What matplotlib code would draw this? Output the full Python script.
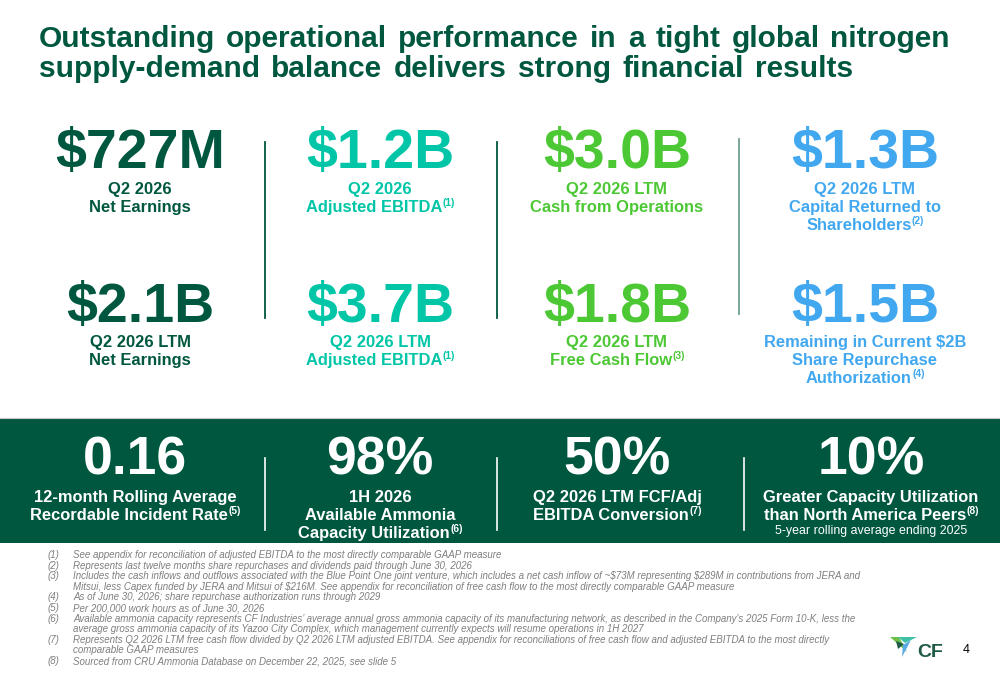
import matplotlib
matplotlib.use("Agg")
import matplotlib.pyplot as plt
from matplotlib.patches import Rectangle, Polygon

plt.rcParams['font.family'] = ['Liberation Sans', 'DejaVu Sans']
plt.rcParams['text.parse_math'] = False

DARK = '#00573F'
TEAL = '#00C6A7'
GREEN = '#4CC834'
BLUE = '#41A8F0'
GRAY = '#7F7F7F'

title_lines = ["Outstanding operational performance in a tight global nitrogen",
               "supply-demand balance delivers strong financial results"]
title_right = [950, 853]   # right edge of each title line in the slide

# top block: big value + label lines (text, superscript)
col_x = [140, 380, 617, 865]
col_colors = [DARK, TEAL, GREEN, BLUE]
row1_values = ["$727M", "$1.2B", "$3.0B", "$1.3B"]
row1_labels = [[("Q2 2026", ""), ("Net Earnings", "")],
               [("Q2 2026", ""), ("Adjusted EBITDA", "(1)")],
               [("Q2 2026 LTM", ""), ("Cash from Operations", "")],
               [("Q2 2026 LTM", ""), ("Capital Returned to", ""), ("Shareholders", "(2)")]]
row2_values = ["$2.1B", "$3.7B", "$1.8B", "$1.5B"]
row2_labels = [[("Q2 2026 LTM", ""), ("Net Earnings", "")],
               [("Q2 2026 LTM", ""), ("Adjusted EBITDA", "(1)")],
               [("Q2 2026 LTM", ""), ("Free Cash Flow", "(3)")],
               [("Remaining in Current $2B", ""), ("Share Repurchase", ""), ("Authorization", "(4)")]]

# band block
band_x = [135, 380, 617, 871]
band_values = ["0.16", "98%", "50%", "10%"]
band_labels = [[("12-month Rolling Average", ""), ("Recordable Incident Rate", "(5)")],
               [("1H 2026", ""), ("Available Ammonia", ""), ("Capacity Utilization", "(6)")],
               [("Q2 2026 LTM FCF/Adj", ""), ("EBITDA Conversion", "(7)")],
               [("Greater Capacity Utilization", ""), ("than North America Peers", "(8)")]]
band_note = "5-year rolling average ending 2025"

footnotes = [
    ("(1)", ["See appendix for reconciliation of adjusted EBITDA to the most directly comparable GAAP measure"]),
    ("(2)", ["Represents last twelve months share repurchases and dividends paid through June 30, 2026"]),
    ("(3)", ["Includes the cash inflows and outflows associated with the Blue Point One joint venture, which includes a net cash inflow of ~$73M representing $289M in contributions from JERA and",
             "Mitsui, less Capex funded by JERA and Mitsui of $216M. See appendix for reconciliation of free cash flow to the most directly comparable GAAP measure"]),
    ("(4)", ["As of June 30, 2026; share repurchase authorization runs through 2029"]),
    ("(5)", ["Per 200,000 work hours as of June 30, 2026"]),
    ("(6)", ["Available ammonia capacity represents CF Industries\u2019 average annual gross ammonia capacity of its manufacturing network, as described in the Company's 2025 Form 10-K, less the",
             "average gross ammonia capacity of its Yazoo City Complex, which management currently expects will resume operations in 1H 2027"]),
    ("(7)", ["Represents Q2 2026 LTM free cash flow divided by Q2 2026 LTM adjusted EBITDA. See appendix for reconciliations of free cash flow and adjusted EBITDA to the most directly",
             "comparable GAAP measures"]),
    ("(8)", ["Sourced from CRU Ammonia Database on December 22, 2025, see slide 5"]),
]

fig = plt.figure(figsize=(10, 6.85), dpi=100)
ax = fig.add_axes([0, 0, 1, 1])
ax.set_xlim(0, 1000)
ax.set_ylim(685, 0)
ax.axis('off')
fig.canvas.draw()
renderer = fig.canvas.get_renderer()


def label_line(x, y, text, sup, color, size):
    # centre text + superscript together on x
    t = ax.text(0, y, text, color=color, fontsize=size, fontweight='bold', va='baseline', ha='left')
    w = t.get_window_extent(renderer).width
    ws = 0
    s = None
    if sup:
        s = ax.text(0, y - size * 0.5, sup, color=color, fontsize=size * 0.62,
                    fontweight='bold', va='baseline', ha='left')
        ws = s.get_window_extent(renderer).width
    left = x - (w + ws) / 2
    t.set_x(left)
    if s is not None:
        s.set_x(left + w + 0.5)


# title, words spread a little (slide text is letter-spaced)
for i, line in enumerate(title_lines):
    words = line.split()
    objs = [ax.text(0, 47 + 30 * i, wd, color=DARK, fontsize=21.5, fontweight='bold', va='baseline')
            for wd in words]
    widths = [o.get_window_extent(renderer).width for o in objs]
    gap = (title_right[i] - 39 - sum(widths)) / (len(words) - 1)
    cur = 39
    for o, w in zip(objs, widths):
        o.set_x(cur)
        cur += w + gap

# top rows
for i in range(4):
    ax.text(col_x[i], 168, row1_values[i], color=col_colors[i], fontsize=40,
            fontweight='bold', ha='center', va='baseline')
    for j, (txt, sup) in enumerate(row1_labels[i]):
        label_line(col_x[i], 194 + 18 * j, txt, sup, col_colors[i], 11.9)
    ax.text(col_x[i], 322, row2_values[i], color=col_colors[i], fontsize=40,
            fontweight='bold', ha='center', va='baseline')
    for j, (txt, sup) in enumerate(row2_labels[i]):
        label_line(col_x[i], 347 + 18 * j, txt, sup, col_colors[i], 11.9)

ax.plot([265, 265], [142, 318], color=DARK, lw=1.3)
ax.plot([497, 497], [142, 318], color=DARK, lw=1.3)
ax.plot([739, 739], [139, 314], color='#6E9F92', lw=1.3)

# dark band
ax.add_patch(Rectangle((0, 418), 1000, 125, facecolor=DARK, edgecolor='none'))
ax.plot([0, 1000], [417.5, 417.5], color='#C8C8C8', lw=0.8)
for i in range(4):
    ax.text(band_x[i], 474, band_values[i], color='white', fontsize=38.5,
            fontweight='bold', ha='center', va='baseline')
    for j, (txt, sup) in enumerate(band_labels[i]):
        label_line(band_x[i], 502 + 18 * j, txt, sup, 'white', 11.9)
ax.text(band_x[3], 534, band_note, color='white', fontsize=8.9, ha='center', va='baseline')
for xd in [265, 497, 744]:
    ax.plot([xd, xd], [458, 530], color='white', lw=1.2)

# footnotes
y = 558
for num, lines in footnotes:
    ax.text(48, y, num, color=GRAY, fontsize=7.0, style='italic', va='baseline')
    for k, ln in enumerate(lines):
        ax.text(73, y, ln, color=GRAY, fontsize=7.0, style='italic', va='baseline')
        y += 10.6

# logo
ax.add_patch(Polygon([(890, 637), (899, 637), (907, 652)], closed=True, facecolor='#6CC04A', edgecolor='none'))
ax.add_patch(Polygon([(898, 637), (917, 637), (905, 643)], closed=True, facecolor='#3FC1A5', edgecolor='none'))
ax.add_patch(Polygon([(903, 645), (911, 640), (902, 657)], closed=True, facecolor='#5AA9E6', edgecolor='none'))
ax.add_patch(Polygon([(896, 641), (904, 644), (898, 649)], closed=True, facecolor='#1E5A47', edgecolor='none'))
ax.text(917, 657, "CF", color='#1E5A47', fontsize=14, fontweight='bold', va='baseline')
ax.text(963, 653, "4", color='black', fontsize=9, va='baseline')

fig.savefig("out.png", dpi=100)
